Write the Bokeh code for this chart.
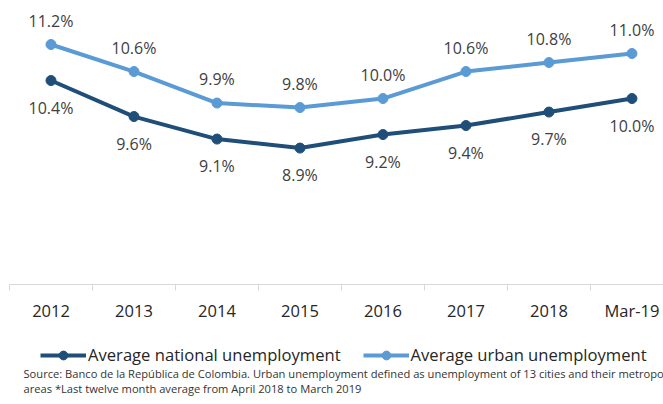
from bokeh.plotting import figure
from bokeh.models import (Range1d, FixedTicker, ColumnDataSource, Legend, LegendItem)
from bokeh.layouts import column
from bokeh.core.properties import value
from bokeh.embed import file_html
from bokeh.resources import INLINE

categories = ["2012", "2013", "2014", "2015", "2016", "2017", "2018", "Mar-19"]
national = [10.4, 9.6, 9.1, 8.9, 9.2, 9.4, 9.7, 10.0]
urban = [11.2, 10.6, 9.9, 9.8, 10.0, 10.6, 10.8, 11.0]
legend_labels = ["Average national unemployment", "Average urban unemployment"]
source_lines = [
    "Source: Banco de la República de Colombia. Urban unemployment defined as unemployment of 13 cities and their metropolitan",
    "areas *Last twelve month average from April 2018 to March 2019",
]

NAVY = "#1f4e79"
LIGHT = "#5b9bd5"
FONT = "Open Sans"

xs = [i + 0.5 for i in range(len(categories))]
src = ColumnDataSource(dict(
    x=xs, nat=national, urb=urban,
    nat_t=[f"{v:.1f}%" for v in national],
    urb_t=[f"{v:.1f}%" for v in urban],
))

p = figure(width=663, height=324, output_backend="svg", toolbar_location=None,
           x_range=Range1d(0, 7.88), y_range=Range1d(5.87, 12.0),
           y_axis_location=None,
           min_border_left=9, min_border_right=0, min_border_top=8, min_border_bottom=36)
p.outline_line_color = None
p.xgrid.visible = False
p.ygrid.visible = False

p.line("x", "nat", source=src, line_color=NAVY, line_width=4)
p.scatter("x", "nat", source=src, size=10, fill_color=NAVY, line_color=NAVY)
p.line("x", "urb", source=src, line_color=LIGHT, line_width=4)
p.scatter("x", "urb", source=src, size=10, fill_color=LIGHT, line_color=LIGHT)

p.text("x", "urb", text="urb_t", source=src, y_offset=-24, text_align="center",
       text_baseline="middle", text_font=value(FONT), text_font_size="16px", text_color="#404040")
p.text("x", "nat", text="nat_t", source=src, y_offset=27, text_align="center",
       text_baseline="middle", text_font=value(FONT), text_font_size="16px", text_color="#404040")

ax = p.xaxis[0]
ax.ticker = FixedTicker(ticks=xs, minor_ticks=list(range(len(categories) + 1)))
ax.major_label_overrides = {x: c for x, c in zip(xs, categories)}
ax.major_tick_line_color = None
ax.minor_tick_line_color = "#d9d9d9"
ax.minor_tick_out = 6
ax.minor_tick_in = 0
ax.axis_line_color = "#d9d9d9"
ax.axis_line_width = 1
ax.major_label_standoff = 8
ax.major_label_text_font = FONT
ax.major_label_text_font_size = "16.5px"
ax.major_label_text_color = "#262626"

# bottom strip: legend and source note (frame aligned with the chart frame at x=9)
p2 = figure(width=663, height=80, output_backend="svg", toolbar_location=None,
            x_range=Range1d(9, 663), y_range=Range1d(80, 0),
            x_axis_location=None, y_axis_location=None,
            min_border_left=9, min_border_right=0, min_border_top=0, min_border_bottom=0)
p2.outline_line_color = None
p2.xgrid.visible = False
p2.ygrid.visible = False

src2 = ColumnDataSource(dict(x=xs, nat=national, urb=urban))
l_nl = p2.line("x", "nat", source=src2, line_color=NAVY, line_width=4, visible=False)
l_nc = p2.scatter("x", "nat", source=src2, size=10, fill_color=NAVY, line_color=NAVY, visible=False)
l_ul = p2.line("x", "urb", source=src2, line_color=LIGHT, line_width=4, visible=False)
l_uc = p2.scatter("x", "urb", source=src2, size=10, fill_color=LIGHT, line_color=LIGHT, visible=False)

legend = Legend(items=[
    LegendItem(label=legend_labels[0], renderers=[l_nl, l_nc]),
    LegendItem(label=legend_labels[1], renderers=[l_ul, l_uc]),
], orientation="horizontal", location=(31, 38))
legend.label_text_font = FONT
legend.label_text_font_size = "16.6px"
legend.label_text_color = "#262626"
legend.glyph_width = 46
legend.glyph_height = 22
legend.label_standoff = 2
legend.spacing = 22
legend.padding = 0
legend.margin = 0
legend.border_line_color = None
legend.background_fill_alpha = 0
legend.inactive_fill_alpha = 0
p2.add_layout(legend)

p2.text(x=[23, 23], y=[49, 64], text=source_lines, text_align="left", text_baseline="middle",
        text_font=value(FONT), text_font_size="11.15px", text_color="#333333")

layout = column(p, p2, spacing=0)
open("out.html", "w").write(file_html(layout, INLINE))
